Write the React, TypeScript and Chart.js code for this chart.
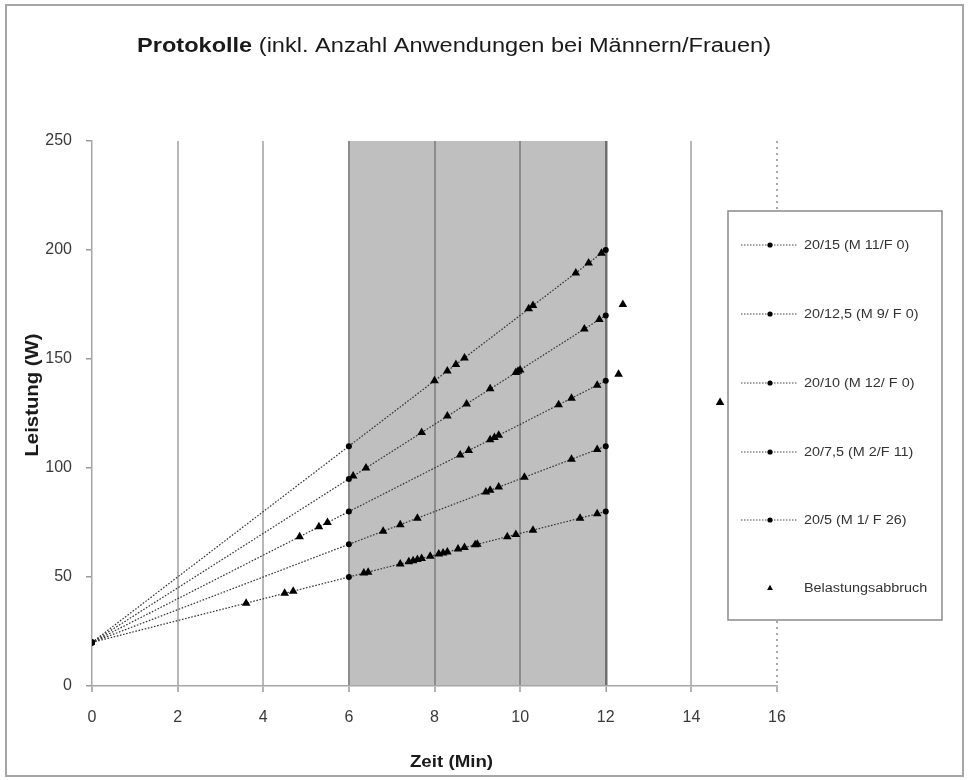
import { useEffect, useRef } from "react";
import { Chart, registerables } from "chart.js";

Chart.register(...registerables);

// ---------- Texte ----------
const titelFett = "Protokolle";
const titelNormal = " (inkl. Anzahl Anwendungen bei Männern/Frauen)";
const xTitel = "Zeit (Min)";
const yTitel = "Leistung (W)";

// ---------- Daten ----------
const zeitpunkte = [0, 6, 12];
const protokollNamen = [
  "20/15 (M 11/F 0)",
  "20/12,5 (M 9/ F 0)",
  "20/10 (M 12/ F 0)",
  "20/7,5 (M 2/F 11)",
  "20/5 (M 1/ F 26)",
];
const leistung2015 = [20, 110, 200];
const leistung20125 = [20, 95, 170];
const leistung2010 = [20, 80, 140];
const leistung2075 = [20, 65, 110];
const leistung205 = [20, 50, 80];

const abbruchLabel = "Belastungsabbruch";
const abbruchZeit = [
  8.0, 8.3, 8.5, 8.7, 10.2, 10.3, 11.3, 11.6, 11.9,
  6.1, 6.4, 7.7, 8.3, 8.75, 9.3, 9.9, 9.95, 10.0, 11.5, 11.85, 12.4,
  4.85, 5.3, 5.5, 8.6, 8.8, 9.3, 9.4, 9.5, 10.9, 11.2, 11.8, 12.3,
  6.8, 7.2, 7.6, 9.2, 9.3, 9.5, 10.1, 11.2, 11.8, 14.67,
  3.6, 4.5, 4.7, 6.35, 6.45, 7.2, 7.4, 7.5, 7.6, 7.7, 7.9, 8.1, 8.2, 8.3, 8.55, 8.7, 8.95, 9.0, 9.7, 9.9, 10.3, 11.4, 11.8,
];
const abbruchLeistung = [
  140, 144.5, 147.5, 150.5, 173, 174.5, 189.5, 194, 198.5,
  96.3, 100, 116.3, 123.8, 129.4, 136.3, 143.8, 144.4, 145, 163.8, 168.1, 175,
  68.5, 73, 75, 106, 108, 113, 114, 115, 129, 132, 138, 143,
  71, 74, 77, 89, 89.8, 91.3, 95.8, 104, 108.5, 130,
  38, 42.5, 43.5, 51.8, 52.2, 56, 57, 57.5, 58, 58.5, 59.5, 60.5, 61, 61.5, 62.8, 63.5, 64.8, 65, 68.5, 69.5, 71.5, 77, 79,
];

const xTicks = [0, 2, 4, 6, 8, 10, 12, 14, 16];
const yTicks = [0, 50, 100, 150, 200, 250];
const markierungVon = 6;
const markierungBis = 12;

const FONT = "'Liberation Sans', Arial, sans-serif";

function stretchedText(
  ctx: CanvasRenderingContext2D,
  text: string,
  x: number,
  y: number,
  font: string,
  color: string,
  align: "left" | "center" = "left",
  sx = 1
) {
  ctx.save();
  ctx.font = font;
  ctx.fillStyle = color;
  ctx.textBaseline = "middle";
  ctx.textAlign = "left";
  const w = ctx.measureText(text).width * sx;
  const x0 = align === "center" ? x - w / 2 : x;
  ctx.translate(x0, y);
  ctx.scale(sx, 1);
  ctx.fillText(text, 0, 0);
  ctx.restore();
  return w;
}

const decorPlugin = {
  id: "decor",
  beforeDraw(chart: any) {
    const { ctx, chartArea, scales } = chart;
    ctx.save();
    ctx.fillStyle = "#ffffff";
    ctx.fillRect(0, 0, chart.width, chart.height);
    ctx.strokeStyle = "#a6a6a6";
    ctx.lineWidth = 2;
    ctx.strokeRect(6, 5, 957, 771);
    const x1 = scales.x.getPixelForValue(markierungVon);
    const x2 = scales.x.getPixelForValue(markierungBis);
    ctx.fillStyle = "#bfbfbf";
    ctx.fillRect(x1, chartArea.top, x2 - x1, chartArea.bottom - chartArea.top);
    ctx.restore();
  },
  beforeDatasetsDraw(chart: any) {
    const { ctx, chartArea, scales } = chart;
    const x16 = scales.x.getPixelForValue(16);
    ctx.save();
    ctx.strokeStyle = "#8c8c8c";
    ctx.lineWidth = 1.5;
    ctx.setLineDash([2, 4]);
    ctx.beginPath();
    ctx.moveTo(x16, chartArea.top);
    ctx.lineTo(x16, chartArea.bottom);
    ctx.stroke();
    ctx.restore();
  },
  afterDraw(chart: any) {
    const { ctx, chartArea } = chart;
    // Titel
    ctx.save();
    const fb = `bold 20px ${FONT}`;
    const fn = `20px ${FONT}`;
    ctx.font = fb;
    const wb = ctx.measureText(titelFett).width;
    ctx.font = fn;
    const wn = ctx.measureText(titelNormal).width;
    const sxT = 634 / (wb + wn);
    const w1 = stretchedText(ctx, titelFett, 137, 46, fb, "#1a1a1a", "left", sxT);
    stretchedText(ctx, titelNormal, 137 + w1, 46, fn, "#1a1a1a", "left", sxT);
    ctx.restore();

    // Achsentitel
    stretchedText(ctx, xTitel, (chartArea.left + chartArea.right) / 2 + 17, 763, `bold 16px ${FONT}`, "#1a1a1a", "center", 1.17);
    ctx.save();
    ctx.translate(33, 395);
    ctx.rotate(-Math.PI / 2);
    ctx.scale(1.13, 1);
    ctx.font = `bold 18px ${FONT}`;
    ctx.fillStyle = "#1a1a1a";
    ctx.textAlign = "center";
    ctx.textBaseline = "middle";
    ctx.fillText(yTitel, 0, 0);
    ctx.restore();

    // Legende
    const bx = 728, by = 211, bw = 214, bh = 409;
    ctx.save();
    ctx.fillStyle = "#ffffff";
    ctx.fillRect(bx, by, bw, bh);
    ctx.strokeStyle = "#8a8a8a";
    ctx.lineWidth = 1.5;
    ctx.strokeRect(bx, by, bw, bh);
    ctx.restore();
    const ds = chart.data.datasets;
    const rowY = [245, 314, 383, 452, 520, 588];
    ds.forEach((d: any, i: number) => {
      const y = rowY[i];
      ctx.save();
      if (d.showLine) {
        ctx.strokeStyle = "#444";
        ctx.lineWidth = 1;
        ctx.setLineDash([1.5, 1.5]);
        ctx.beginPath();
        ctx.moveTo(741, y);
        ctx.lineTo(797, y);
        ctx.stroke();
        ctx.setLineDash([]);
        ctx.fillStyle = "#000";
        ctx.beginPath();
        ctx.arc(770, y, 2.6, 0, Math.PI * 2);
        ctx.fill();
      } else {
        ctx.fillStyle = "#000";
        const r = 3.2;
        ctx.beginPath();
        ctx.moveTo(770, y - r);
        ctx.lineTo(770 + r * 0.9, y + r * 0.6);
        ctx.lineTo(770 - r * 0.9, y + r * 0.6);
        ctx.closePath();
        ctx.fill();
      }
      ctx.restore();
      stretchedText(ctx, d.label, 804, y + 1, `12px ${FONT}`, "#333", "left", 1.2);
    });
  },
};

function linie(label: string, werte: number[]) {
  return {
    label,
    data: zeitpunkte.map((x, i) => ({ x, y: werte[i] })),
    showLine: true,
    borderColor: "#333333",
    borderWidth: 1.2,
    borderDash: [1.6, 1.6],
    pointStyle: "circle",
    pointRadius: 3,
    pointBackgroundColor: "#000",
    pointBorderColor: "#000",
    pointBorderWidth: 0,
    order: 2,
  };
}

export default function App() {
  const ref = useRef<HTMLCanvasElement | null>(null);

  useEffect(() => {
    if (!ref.current) return;
    const chart = new Chart(ref.current, {
      type: "scatter",
      data: {
        datasets: [
          linie(protokollNamen[0], leistung2015),
          linie(protokollNamen[1], leistung20125),
          linie(protokollNamen[2], leistung2010),
          linie(protokollNamen[3], leistung2075),
          linie(protokollNamen[4], leistung205),
          {
            label: abbruchLabel,
            data: abbruchZeit.map((x, i) => ({ x, y: abbruchLeistung[i] })),
            showLine: false,
            pointStyle: "triangle",
            pointRadius: 5,
            pointBackgroundColor: "#000",
            pointBorderColor: "#000",
            pointBorderWidth: 0,
            order: 1,
          } as any,
        ],
      },
      options: {
        animation: false,
        responsive: false,
        maintainAspectRatio: false,
        events: [],
        layout: { padding: { left: 0, right: 191, top: 141, bottom: 0 } },
        plugins: {
          legend: { display: false },
          title: { display: false },
          tooltip: { enabled: false },
        },
        scales: {
          x: {
            type: "linear",
            min: 0,
            max: 16,
            afterBuildTicks: (s: any) => {
              s.ticks = xTicks.map((v) => ({ value: v }));
            },
            afterFit: (s: any) => {
              s.height = 94;
            },
            ticks: {
              font: { family: FONT, size: 16 },
              color: "#3a3a3a",
              padding: 16,
              maxRotation: 0,
            },
            grid: {
              color: (c: any) => {
                const v = c.tick?.value;
                if (v === 0 || v === 16) return "rgba(0,0,0,0)";
                if (v === 12) return "#6f6f6f";
                if (v >= 6 && v <= 10) return "#8c8c8c";
                return "#b8b8b8";
              },
              lineWidth: (c: any) => (c.tick?.value === 12 ? 2.5 : 2),
              tickLength: 6,
              tickColor: "#9a9a9a",
              tickWidth: 1.5,
            },
            border: { color: "#a6a6a6", width: 1.5 },
          },
          y: {
            min: 0,
            max: 250,
            afterBuildTicks: (s: any) => {
              s.ticks = yTicks.map((v) => ({ value: v }));
            },
            afterFit: (s: any) => {
              s.width = 92;
            },
            ticks: {
              font: { family: FONT, size: 16 },
              color: "#3a3a3a",
              padding: 14,
            },
            grid: {
              drawOnChartArea: false,
              tickLength: 6,
              color: "#9a9a9a",
              lineWidth: 1.5,
            },
            border: { color: "#a6a6a6", width: 1.5 },
          },
        },
      },
      plugins: [decorPlugin],
    } as any);
    return () => chart.destroy();
  }, []);

  return (
    <div style={{ position: "absolute", left: 0, top: 0, width: 968, height: 780, background: "#fff" }}>
      <canvas ref={ref} width={968} height={780} style={{ display: "block" }} />
    </div>
  );
}
